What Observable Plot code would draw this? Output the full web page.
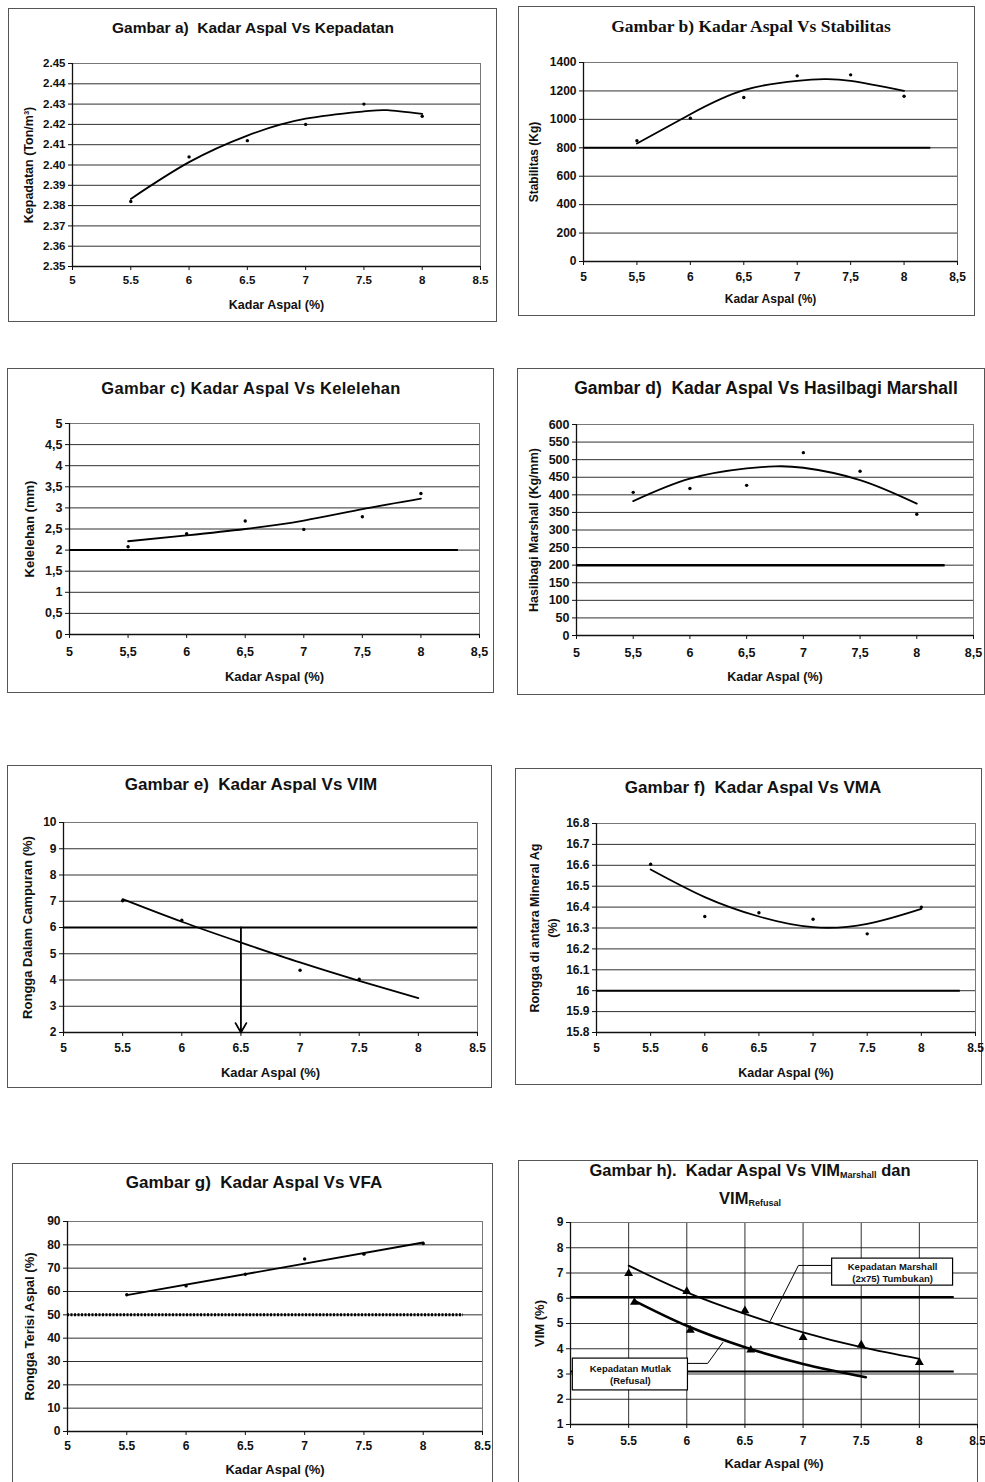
<!DOCTYPE html>
<html><head><meta charset="utf-8">
<script src="https://cdn.jsdelivr.net/npm/d3@7"></script>
<script src="https://cdn.jsdelivr.net/npm/@observablehq/plot@0.6"></script>
<style>
body{margin:0;background:#fff;font-family:"Liberation Sans",Arial,sans-serif;}
#root{position:relative;width:985px;height:1482px;overflow:hidden;background:#fff;}
.box{position:absolute;border:1.5px solid #555;box-sizing:border-box;}
.title{position:absolute;font-weight:bold;font-size:14px;color:#111;white-space:nowrap;transform:translate(-50%,-50%);text-align:center;}
.title sub{font-size:9px;vertical-align:-2px;}
</style></head><body><div id="root"></div><script>
// ---------- data ----------
const xTicks = [5, 5.5, 6, 6.5, 7, 7.5, 8, 8.5];
const kadar = [5.5, 6, 6.5, 7, 7.5, 8];

// a) Kepadatan
const aY = [2.382, 2.404, 2.412, 2.420, 2.430, 2.424];
const aCurveX = [5.5, 6, 6.5, 7, 7.5, 7.7, 8];
const aCurveY = [2.3833, 2.4014, 2.4145, 2.4228, 2.4264, 2.4270, 2.4252];
const aTicks = [2.35, 2.36, 2.37, 2.38, 2.39, 2.40, 2.41, 2.42, 2.43, 2.44, 2.45];

// b) Stabilitas
const bY = [849, 1008, 1154, 1306, 1313, 1163];
const bCurveX = [5.5, 6, 6.5, 7, 7.25, 7.5, 8];
const bCurveY = [830, 1036, 1205, 1271, 1283, 1271, 1201];
const bTicks = [0, 200, 400, 600, 800, 1000, 1200, 1400];
const bLimit = [{x1: 5, x2: 8.25, y: 800}];

// c) Kelelehan
const cY = [2.08, 2.39, 2.69, 2.49, 2.79, 3.34];
const cCurveX = [5.5, 6, 6.5, 7, 7.5, 8];
const cCurveY = [2.21, 2.35, 2.50, 2.70, 2.97, 3.22];
const cTicks = [0, 0.5, 1, 1.5, 2, 2.5, 3, 3.5, 4, 4.5, 5];
const cLimit = [{x1: 5, x2: 8.32, y: 2}];

// d) Hasilbagi Marshall
const dY = [407, 418, 427, 520, 467, 345];
const dCurveX = [5.5, 6, 6.5, 6.75, 7, 7.5, 8];
const dCurveY = [382, 446, 475, 481, 477, 442, 375];
const dTicks = [0, 50, 100, 150, 200, 250, 300, 350, 400, 450, 500, 550, 600];
const dLimit = [{x1: 5, x2: 8.25, y: 200}];

// e) VIM
const eX = [5.5, 6, 7, 7.5];
const eY = [7.02, 6.28, 4.37, 4.03];
const eCurveX = [5.5, 6, 6.5, 7, 7.5, 8];
const eCurveY = [7.08, 6.22, 5.43, 4.67, 3.97, 3.31];
const eTicks = [2, 3, 4, 5, 6, 7, 8, 9, 10];
const eLimit = [{x1: 5, x2: 8.5, y: 6}];
const eArrow = [{x1: 6.5, y1: 6, x2: 6.5, y2: 2}];

// f) VMA
const fY = [16.605, 16.355, 16.373, 16.342, 16.272, 16.40];
const fCurveX = [5.5, 6, 6.5, 7, 7.5, 8];
const fCurveY = [16.58, 16.448, 16.355, 16.304, 16.32, 16.392];
const fTicks = [15.8, 15.9, 16, 16.1, 16.2, 16.3, 16.4, 16.5, 16.6, 16.7, 16.8];
const fLimit = [{x1: 5, x2: 8.36, y: 16}];

// g) VFA
const gY = [58.6, 62.4, 67.4, 73.9, 76.0, 80.6];
const gLineX = [5.5, 8];
const gLineY = [58.4, 81.0];
const gTicks = [0, 10, 20, 30, 40, 50, 60, 70, 80, 90];
const gLimit = [{x1: 5, x2: 8.34, y: 50}];

// h) VIM Marshall dan VIM Refusal
const hMarshallY = [6.98, 6.27, 5.51, 4.45, 4.15, 3.46];
const hMarshallCurveX = [5.5, 6, 6.5, 7, 7.5, 8];
const hMarshallCurveY = [7.29, 6.23, 5.38, 4.65, 4.06, 3.60];
const hRefusalX = [5.55, 6.03, 6.55];
const hRefusalY = [5.84, 4.74, 3.95];
const hRefusalCurveX = [5.55, 6, 6.5, 7, 7.54];
const hRefusalCurveY = [5.90, 4.91, 4.06, 3.40, 2.87];
const hTicks = [1, 2, 3, 4, 5, 6, 7, 8, 9];
const hLimits = [{x1: 5, x2: 8.3, y: 6.05}, {x1: 5, x2: 8.3, y: 3.1}];
const hLabelMarshall = ["Kepadatan Marshall", "(2x75) Tumbukan)"];
const hLabelRefusal = ["Kepadatan Mutlak", "(Refusal)"];
const hBoxMarshall = [{x1: 7.25, x2: 8.29, y1: 6.5, y2: 7.57}];
const hBoxRefusal = [{x1: 5.02, x2: 6.01, y1: 2.35, y2: 3.61}];
const hLeaderMarshall = [{x: 7.25, y: 7.30}, {x: 6.96, y: 7.30}, {x: 6.72, y: 5.12}];
const hLeaderRefusal = [{x: 6.01, y: 3.42}, {x: 6.18, y: 3.42}, {x: 6.31, y: 4.25}];

// ---------- helpers ----------
const pts = (xs, ys) => xs.map((x, i) => ({x, y: ys[i]}));
const dot = d => String(d);
const comma = d => String(d).replace(".", ",");
const root = document.getElementById("root");
const FONT = "'Liberation Sans', Arial, sans-serif";

function panel(p) {
  const [bx0, by0, bx1, by1] = p.box;
  const box = document.createElement("div");
  box.className = "box";
  Object.assign(box.style, {left: bx0 + "px", top: by0 + "px", width: (bx1 - bx0) + "px", height: (by1 - by0) + "px"});
  root.appendChild(box);

  const [px0, py0, px1, py1] = p.plot;
  const mL = 80, mR = 14, mT = 10, mB = 55;
  const fs = p.tickFont || 12;
  const lfs = p.labelFont || 12.5;
  const svg = Plot.plot({
    width: px1 - px0 + mL + mR,
    height: py1 - py0 + mT + mB,
    marginLeft: mL, marginRight: mR, marginTop: mT, marginBottom: mB,
    style: {fontFamily: FONT, fontSize: fs + "px", fontWeight: "bold", color: "#111", background: "transparent", overflow: "visible"},
    x: {domain: [5, 8.5]},
    y: {domain: [p.yTicks[0], p.yTicks[p.yTicks.length - 1]]},
    marks: [
      Plot.gridY(p.yTicks, {stroke: "#1a1a1a", strokeOpacity: 0.9, strokeWidth: 1}),
      p.gridX ? Plot.gridX(xTicks, {stroke: "#1a1a1a", strokeOpacity: 0.9, strokeWidth: 1}) : null,
      Plot.frame({stroke: "#777", strokeWidth: 1}),
      Plot.ruleX([5], {stroke: "#111", strokeWidth: 1.3}),
      Plot.ruleY([p.yTicks[0]], {stroke: "#111", strokeWidth: 1.3}),
      Plot.axisX(xTicks, {tickFormat: p.xFmt, tickSize: 4, tickPadding: p.xTickOff - 4 - fs * 0.55, label: null, fontSize: fs}),
      Plot.axisY(p.yTicks, {tickFormat: p.yFmt, tickSize: 4, tickPadding: 3, label: null, fontSize: fs}),
      Plot.text(["Kadar Aspal (%)"], {frameAnchor: "bottom", textAnchor: "middle", lineAnchor: "middle", dy: p.xLabOff, text: d => d, fontSize: lfs, fontWeight: "bold"}),
      Plot.text([p.yLabel], {frameAnchor: "left", textAnchor: "middle", lineAnchor: "middle", rotate: -90, dx: -p.yLabOff, text: d => d, fontSize: lfs, fontWeight: "bold", lineHeight: 1.45}),
      ...p.marks
    ]
  });
  svg.style.position = "absolute";
  svg.style.left = (px0 - mL) + "px";
  svg.style.top = (py0 - mT) + "px";
  root.appendChild(svg);

  const t = document.createElement("div");
  t.className = "title";
  t.innerHTML = p.title;
  Object.assign(t.style, {left: p.titleX + "px", top: p.titleY + "px"}, p.titleStyle || {});
  root.appendChild(t);
}

const limit = (data, extra = {}) => Plot.ruleY(data, {y: "y", x1: "x1", x2: "x2", stroke: "#000", strokeWidth: 2, ...extra});
const curve = (xs, ys, extra = {}) => Plot.line(pts(xs, ys), {x: "x", y: "y", curve: "natural", stroke: "#000", strokeWidth: 1.8, ...extra});
const dots = (xs, ys, extra = {}) => Plot.dot(pts(xs, ys), {x: "x", y: "y", r: 1.7, fill: "#000", ...extra});

// ---------- panels ----------
panel({
  box: [8, 8, 497, 322], plot: [72, 63, 480, 266],
  title: "Gambar a)&nbsp; Kadar Aspal Vs Kepadatan", titleX: 253, titleY: 28, titleStyle: {fontSize: "15.5px"},
  yTicks: aTicks, yFmt: d3.format(".2f"), xFmt: dot,
  yLabel: "Kepadatan (Ton/m³)", xTickOff: 16, xLabOff: 38, yLabOff: 45, tickFont: 11.5, labelFont: 12.5,
  marks: [curve(aCurveX, aCurveY), dots(kadar, aY)]
});

panel({
  box: [518, 6, 975, 316], plot: [583, 62, 957, 261],
  title: "Gambar b) Kadar Aspal Vs Stabilitas", titleX: 751, titleY: 26, titleStyle: {fontFamily: "'Liberation Serif', 'Times New Roman', serif", fontSize: "17.5px"},
  yTicks: bTicks, yFmt: dot, xFmt: comma,
  yLabel: "Stabilitas (Kg)", xTickOff: 18, xLabOff: 38, yLabOff: 51, tickFont: 12, labelFont: 12,
  marks: [limit(bLimit), curve(bCurveX, bCurveY), dots(kadar, bY)]
});

panel({
  box: [7, 368, 494, 693], plot: [69, 423, 479, 634],
  title: "Gambar c) Kadar Aspal Vs Kelelehan", titleX: 251, titleY: 388, titleStyle: {fontSize: "16.5px", letterSpacing: "0.3px"},
  yTicks: cTicks, yFmt: comma, xFmt: comma,
  yLabel: "Kelelehan (mm)", xTickOff: 19, xLabOff: 42, yLabOff: 42, tickFont: 12.5, labelFont: 13,
  marks: [limit(cLimit), curve(cCurveX, cCurveY), dots(kadar, cY)]
});

panel({
  box: [517, 368, 985, 695], plot: [576, 424, 973, 635],
  title: "Gambar d)&nbsp; Kadar Aspal Vs Hasilbagi Marshall", titleX: 766, titleY: 388, titleStyle: {fontSize: "17.5px"},
  yTicks: dTicks, yFmt: dot, xFmt: comma,
  yLabel: "Hasilbagi Marshall (Kg/mm)", xTickOff: 19, xLabOff: 41, yLabOff: 44, tickFont: 12.5, labelFont: 12.5,
  marks: [limit(dLimit, {strokeWidth: 2.5}), curve(dCurveX, dCurveY), dots(kadar, dY)]
});

panel({
  box: [7, 765, 492, 1088], plot: [63, 822, 477, 1032],
  title: "Gambar e)&nbsp; Kadar Aspal Vs VIM", titleX: 251, titleY: 785, titleStyle: {fontSize: "17px"},
  yTicks: eTicks, yFmt: dot, xFmt: dot,
  yLabel: "Rongga Dalam Campuran (%)", xTickOff: 18, xLabOff: 40, yLabOff: 38, tickFont: 12, labelFont: 13,
  marks: [
    limit(eLimit),
    curve(eCurveX, eCurveY),
    dots(eX, eY),
    Plot.arrow(eArrow, {x1: "x1", y1: "y1", x2: "x2", y2: "y2", stroke: "#000", strokeWidth: 1.8, headLength: 9})
  ]
});

panel({
  box: [515, 768, 982, 1085], plot: [596, 823, 975, 1032],
  title: "Gambar f)&nbsp; Kadar Aspal Vs VMA", titleX: 753, titleY: 788, titleStyle: {fontSize: "17px"},
  yTicks: fTicks, yFmt: dot, xFmt: dot,
  yLabel: "Rongga di antara Mineral Ag\n(%)", xTickOff: 18, xLabOff: 40, yLabOff: 54, tickFont: 12, labelFont: 12.5,
  marks: [limit(fLimit), curve(fCurveX, fCurveY), dots(kadar, fY)]
});

panel({
  box: [12, 1163, 493, 1490], plot: [67, 1221, 482, 1431],
  title: "Gambar g)&nbsp; Kadar Aspal Vs VFA", titleX: 254, titleY: 1183, titleStyle: {fontSize: "17px"},
  yTicks: gTicks, yFmt: dot, xFmt: dot,
  yLabel: "Rongga Terisi Aspal (%)", xTickOff: 17, xLabOff: 38, yLabOff: 40, tickFont: 12, labelFont: 13,
  marks: [
    limit(gLimit, {strokeWidth: 3, strokeDasharray: "2,1.5"}),
    curve(gLineX, gLineY, {curve: "linear"}),
    dots(kadar, gY)
  ]
});

panel({
  box: [518, 1160, 978, 1490], plot: [570, 1222, 977, 1424],
  title: "Gambar h).&nbsp; Kadar Aspal Vs VIM<sub>Marshall</sub> dan<br>VIM<sub>Refusal</sub>", titleX: 750, titleY: 1187, titleStyle: {fontSize: "16.5px", lineHeight: "23px"},
  yTicks: hTicks, yFmt: dot, xFmt: dot, gridX: true,
  yLabel: "VIM (%)", xTickOff: 19, xLabOff: 39, yLabOff: 33, tickFont: 12, labelFont: 13,
  marks: [
    limit(hLimits, {strokeWidth: 2}),
    curve(hMarshallCurveX, hMarshallCurveY, {strokeWidth: 1.8}),
    curve(hRefusalCurveX, hRefusalCurveY, {strokeWidth: 2.6}),
    Plot.dot(pts(kadar, hMarshallY), {x: "x", y: "y", symbol: "triangle", r: 3.3, fill: "#000"}),
    Plot.dot(pts(hRefusalX, hRefusalY), {x: "x", y: "y", symbol: "triangle", r: 3.3, fill: "#000"}),
    Plot.line(hLeaderMarshall, {x: "x", y: "y", stroke: "#000", strokeWidth: 1}),
    Plot.line(hLeaderRefusal, {x: "x", y: "y", stroke: "#000", strokeWidth: 1}),
    Plot.rect(hBoxMarshall, {x1: "x1", x2: "x2", y1: "y1", y2: "y2", fill: "#fff", stroke: "#000", strokeWidth: 1.2}),
    Plot.rect(hBoxRefusal, {x1: "x1", x2: "x2", y1: "y1", y2: "y2", fill: "#fff", stroke: "#000", strokeWidth: 1.2}),
    Plot.text([hLabelMarshall.join("\n")], {x: (hBoxMarshall[0].x1 + hBoxMarshall[0].x2) / 2, y: (hBoxMarshall[0].y1 + hBoxMarshall[0].y2) / 2, text: d => d, fontSize: 9.5, fontWeight: "bold", lineHeight: 1.25}),
    Plot.text([hLabelRefusal.join("\n")], {x: (hBoxRefusal[0].x1 + hBoxRefusal[0].x2) / 2, y: (hBoxRefusal[0].y1 + hBoxRefusal[0].y2) / 2, text: d => d, fontSize: 9.5, fontWeight: "bold", lineHeight: 1.25})
  ]
});
</script></body></html>
